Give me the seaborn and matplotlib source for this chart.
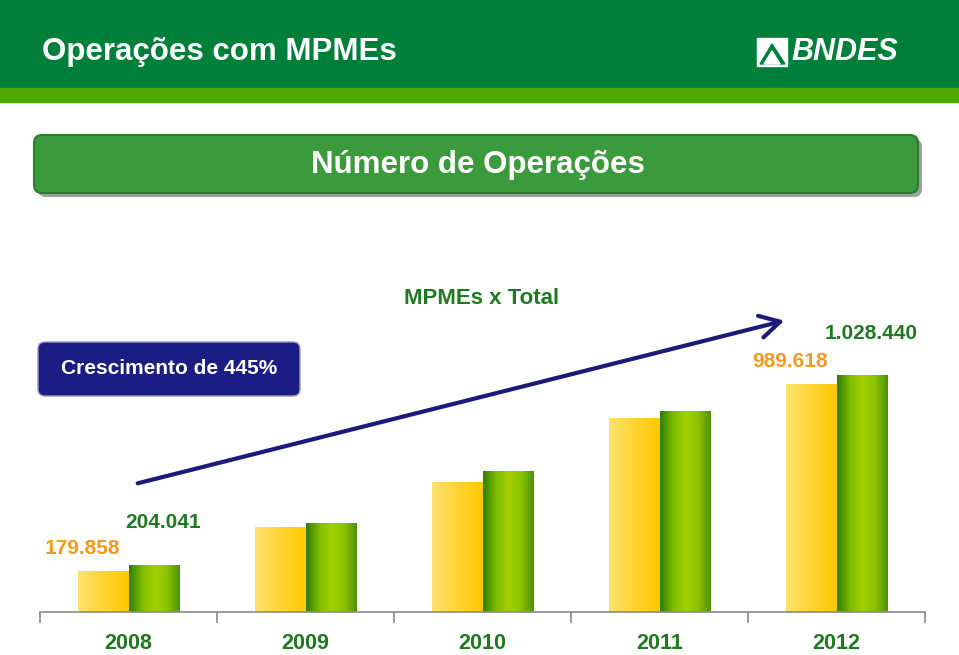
import numpy as np
import pandas as pd
import matplotlib
matplotlib.use("Agg")
import matplotlib.pyplot as plt
import seaborn as sns
from matplotlib.patches import Rectangle, FancyBboxPatch, FancyArrowPatch, Polygon
from matplotlib.colors import LinearSegmentedColormap

# dados (número de operações)
anos = ["2008", "2009", "2010", "2011", "2012"]
mpmes = [179858, 371000, 566000, 844000, 989618]
total = [204041, 388000, 610000, 874000, 1028440]
series = ["MPMEs", "Total"]
anos_rotulados = ["2008", "2012"]

titulo = "Operações com MPMEs"
subtitulo = "Número de Operações"
legenda = "MPMEs x Total"
crescimento = "Crescimento de 445%"

VERDE_ESCURO = "#007F3A"
VERDE_CLARO = "#4FA800"
VERDE_TEXTO = "#1E7A1E"
LARANJA = "#F39A1E"
AZUL = "#1C1C85"

sns.set_style("white")
plt.rcParams["font.family"] = ["Liberation Sans", "DejaVu Sans"]
plt.rcParams["font.weight"] = "bold"

df = pd.DataFrame({
    "ano": anos * 2,
    "valor": mpmes + total,
    "serie": [series[0]] * len(anos) + [series[1]] * len(anos),
})

fig = plt.figure(figsize=(9.59, 6.55), dpi=100)

# camada de fundo em pixels (0..959, 0..655 de cima para baixo)
bg = fig.add_axes([0, 0, 1, 1], zorder=0)
bg.set_xlim(0, 959)
bg.set_ylim(655, 0)
bg.axis("off")

bg.add_patch(Rectangle((0, 0), 959, 88, color=VERDE_ESCURO))
bg.add_patch(Rectangle((0, 88), 959, 14, color=VERDE_CLARO))
bg.text(42, 52, titulo, color="white", fontsize=22.5, va="center", ha="left")

# logo BNDES
bg.add_patch(Rectangle((757, 38), 30, 28, color="white"))
bg.add_patch(Polygon([[760, 64], [772, 44], [785, 64]], closed=True, color=VERDE_ESCURO))
bg.add_patch(Polygon([[764, 64], [772, 51], [780, 64]], closed=True, color="white"))
bg.text(791, 52, "BNDES", color="white", fontsize=22, style="italic", va="center", ha="left")

# faixa do subtítulo
bg.add_patch(FancyBboxPatch((38, 139), 884, 58, boxstyle="round,pad=0,rounding_size=8",
                            facecolor="#a0a0a0", edgecolor="none"))
bg.add_patch(FancyBboxPatch((34, 135), 884, 58, boxstyle="round,pad=0,rounding_size=8",
                            facecolor="#3B9A3B", edgecolor="#2A7D2A", linewidth=1.5))
bg.text(478, 165, subtitulo, color="white", fontsize=22.5, va="center", ha="center")

bg.text(482, 298, legenda, color=VERDE_TEXTO, fontsize=16, va="center", ha="center")

# caixa de crescimento
bg.add_patch(FancyBboxPatch((38, 342), 262, 54, boxstyle="round,pad=0,rounding_size=7",
                            facecolor=AZUL, edgecolor="#9999bb", linewidth=1))
bg.text(169, 369, crescimento, color="white", fontsize=15, va="center", ha="center")

# seta
bg.add_patch(FancyArrowPatch((135, 484), (787, 320), arrowstyle="->,head_length=9,head_width=5",
                             color="#1A1A7A", linewidth=3, mutation_scale=1.6))

# gráfico de barras
ax = fig.add_axes([40 / 959, 43 / 655, 885 / 959, 312 / 655], zorder=1)
ax.patch.set_alpha(0)
sns.barplot(data=df, x="ano", y="valor", hue="serie", palette=["#FFD233", "#7DBB00"],
            width=0.565, gap=0, legend=False, ax=ax, saturation=1)

cmap_am = LinearSegmentedColormap.from_list("am", ["#FFE170", "#FFD533", "#FFC800"])
cmap_vd = LinearSegmentedColormap.from_list("vd", ["#2E7F00", "#7DBB00", "#A2D000", "#8CC400", "#4E9400"])
grad = np.linspace(0, 1, 64).reshape(1, -1)
n = len(anos)
for i, p in enumerate(ax.patches[:2 * n]):
    x0, y0 = p.get_x(), p.get_y()
    w, h = p.get_width(), p.get_height()
    cm = cmap_am if i < n else cmap_vd
    im = ax.imshow(grad, cmap=cm, aspect="auto", extent=[x0, x0 + w, y0, y0 + h], zorder=2)
    im.set_clip_path(p)
    p.set_edgecolor("none")
ax.set_xlim(-0.5, n - 0.5)
ax.set_ylim(0, 1.354e6)

def fmt(v):
    return f"{v:,}".replace(",", ".")

for a in anos_rotulados:
    i = anos.index(a)
    bm = ax.patches[i]
    bt = ax.patches[n + i]
    ax.annotate(fmt(mpmes[i]), (bm.get_x() + bm.get_width() / 2, mpmes[i]), xytext=(-21, 22),
                textcoords="offset pixels", ha="center", va="center", color=LARANJA, fontsize=15)
    ax.annotate(fmt(total[i]), (bt.get_x() + bt.get_width() / 2, total[i]), xytext=(10, 42),
                textcoords="offset pixels", ha="center", va="center", color=VERDE_TEXTO, fontsize=15)

# eixo
for s in ["top", "left", "right"]:
    ax.spines[s].set_visible(False)
ax.spines["bottom"].set_color("#8a8a8a")
ax.spines["bottom"].set_linewidth(1.2)
ax.set_yticks([])
ax.set_xlabel("")
ax.set_ylabel("")
ax.set_xticks(range(n))
ax.set_xticklabels(anos, color=VERDE_TEXTO, fontsize=15.5)
ax.set_xticks(np.arange(-0.5, n, 1), minor=True)
ax.tick_params(axis="x", which="major", bottom=False, length=0, pad=15)
ax.tick_params(axis="x", which="minor", bottom=True, length=8, width=1.2, color="#8a8a8a",
               direction="out")

fig.savefig("out.png", dpi=100)
